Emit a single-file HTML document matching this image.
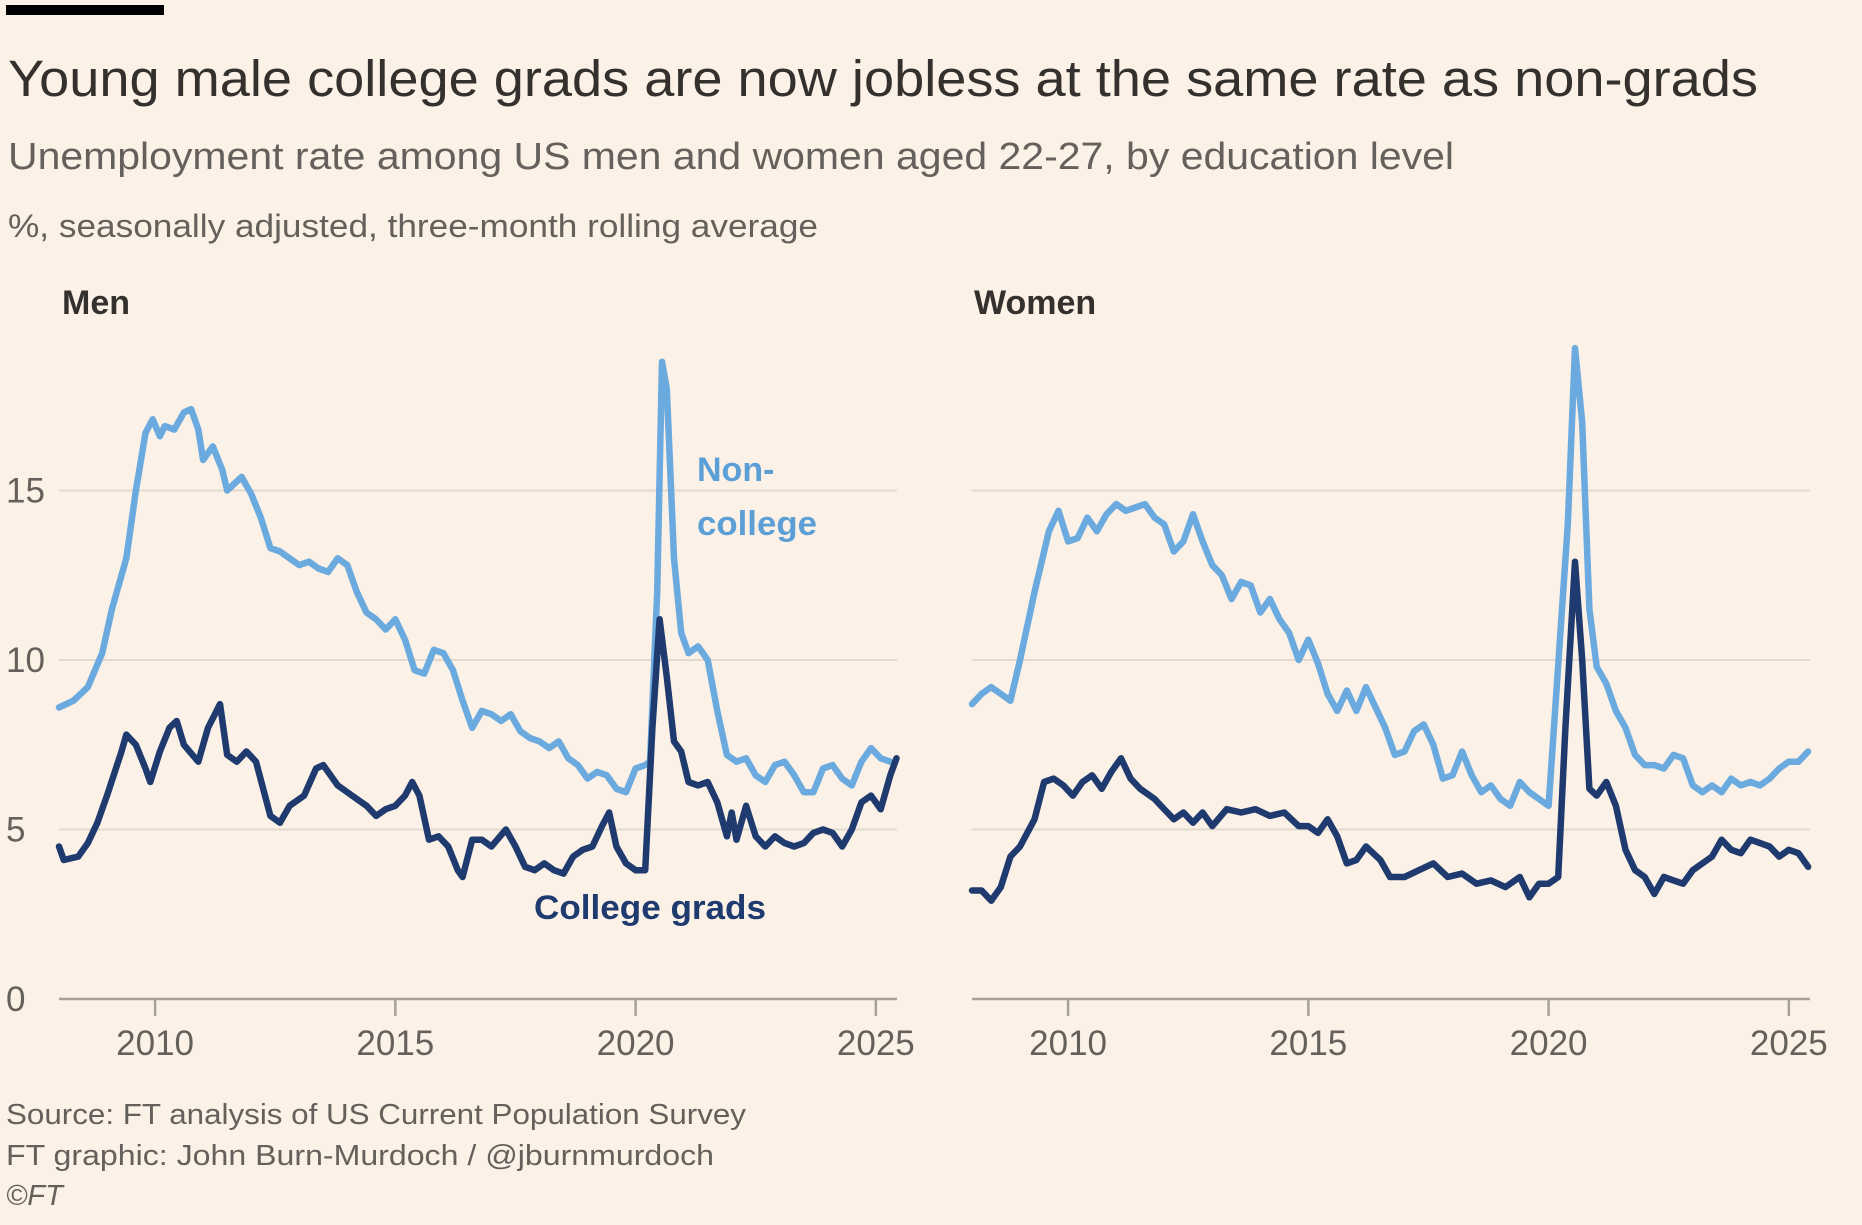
<!DOCTYPE html>
<html><head><meta charset="utf-8">
<style>
html,body{margin:0;padding:0;background:#fbf1e7;}
body{width:1862px;height:1220px;overflow:hidden;font-family:"Liberation Sans",sans-serif;}
</style></head>
<body>
<svg id="s" width="1862" height="1220" viewBox="0 0 1862 1220" xmlns="http://www.w3.org/2000/svg" font-family="Liberation Sans, sans-serif">
<rect width="1862" height="1220" fill="#fbf1e7"/>
<rect x="6" y="5" width="158" height="10" fill="#000"/>
<text x="8" y="96" font-size="51" fill="#33302e" textLength="1750" lengthAdjust="spacingAndGlyphs">Young male college grads are now jobless at the same rate as non-grads</text>
<text x="8" y="169" font-size="38" fill="#66605c" textLength="1446" lengthAdjust="spacingAndGlyphs">Unemployment rate among US men and women aged 22-27, by education level</text>
<text x="8" y="237" font-size="32" fill="#66605c" textLength="810" lengthAdjust="spacingAndGlyphs">%, seasonally adjusted, three-month rolling average</text>
<text x="62" y="314" font-size="34" font-weight="bold" fill="#33302e">Men</text>
<text x="974" y="314" font-size="34" font-weight="bold" fill="#33302e">Women</text>
<g id="axes"></g>
<g id="lines"></g>
<text x="697" y="481" font-size="34" font-weight="bold" fill="#5c9fd6">Non-</text>
<text x="697" y="535" font-size="34" font-weight="bold" fill="#5c9fd6" textLength="120" lengthAdjust="spacingAndGlyphs">college</text>
<text x="534" y="919" font-size="34" font-weight="bold" fill="#1e3a6e" textLength="232" lengthAdjust="spacingAndGlyphs">College grads</text>
<text x="6" y="1124" font-size="29" fill="#66605c" textLength="740" lengthAdjust="spacingAndGlyphs">Source: FT analysis of US Current Population Survey</text>
<text x="6" y="1165" font-size="29" fill="#66605c" textLength="708" lengthAdjust="spacingAndGlyphs">FT graphic: John Burn-Murdoch / @jburnmurdoch</text>
<text x="6" y="1205" font-size="29" fill="#66605c" font-style="italic">©FT</text>
</svg>
<script>
var NS="http://www.w3.org/2000/svg";
function el(p,t,a,txt){var e=document.createElementNS(NS,t);for(var k in a)e.setAttribute(k,a[k]);if(txt!==undefined)e.textContent=txt;document.getElementById(p).appendChild(e);return e;}
function Y(v){return 999-v*33.9;}
var offs=[0,913];
offs.forEach(function(o,i){
  [5,10,15].forEach(function(v){el("axes","line",{x1:59+o,x2:897+o,y1:Y(v),y2:Y(v),stroke:"#e3dacf","stroke-width":2});});
  el("axes","line",{x1:59+o,x2:897+o,y1:999,y2:999,stroke:"#a8a19b","stroke-width":2.5});
  [2010,2015,2020,2025].forEach(function(yr){var x=59+o+(yr-2008)*48.05;
    el("axes","line",{x1:x,x2:x,y1:999,y2:1016,stroke:"#a8a19b","stroke-width":2.5});
    el("axes","text",{x:x,y:1055,"font-size":35,fill:"#66605c","text-anchor":"middle"},String(yr));});
  if(i==0){[0,5,10,15].forEach(function(v){el("axes","text",{x:6,y:Y(v)+12,"font-size":35,fill:"#66605c"},String(v));});}
});
var MN=[[2008,8.6],[2008.3,8.8],[2008.6,9.2],[2008.9,10.2],[2009.1,11.5],[2009.4,13],[2009.6,15],[2009.8,16.7],[2009.95,17.1],[2010.1,16.6],[2010.2,16.9],[2010.4,16.8],[2010.6,17.3],[2010.75,17.4],[2010.9,16.8],[2011,15.9],[2011.2,16.3],[2011.4,15.6],[2011.5,15],[2011.8,15.4],[2012,14.9],[2012.2,14.2],[2012.4,13.3],[2012.6,13.2],[2012.8,13],[2013,12.8],[2013.2,12.9],[2013.4,12.7],[2013.6,12.6],[2013.8,13],[2014,12.8],[2014.2,12],[2014.4,11.4],[2014.6,11.2],[2014.8,10.9],[2015,11.2],[2015.2,10.6],[2015.4,9.7],[2015.6,9.6],[2015.8,10.3],[2016,10.2],[2016.2,9.7],[2016.4,8.8],[2016.6,8],[2016.8,8.5],[2017,8.4],[2017.2,8.2],[2017.4,8.4],[2017.6,7.9],[2017.8,7.7],[2018,7.6],[2018.2,7.4],[2018.4,7.6],[2018.6,7.1],[2018.8,6.9],[2019,6.5],[2019.2,6.7],[2019.4,6.6],[2019.6,6.2],[2019.8,6.1],[2020,6.8],[2020.2,6.9],[2020.3,7],[2020.45,12],[2020.55,18.8],[2020.65,18],[2020.8,13],[2020.95,10.8],[2021.1,10.2],[2021.3,10.4],[2021.5,10],[2021.7,8.5],[2021.9,7.2],[2022.1,7],[2022.3,7.1],[2022.5,6.6],[2022.7,6.4],[2022.9,6.9],[2023.1,7],[2023.3,6.6],[2023.5,6.1],[2023.7,6.1],[2023.9,6.8],[2024.1,6.9],[2024.3,6.5],[2024.5,6.3],[2024.7,7],[2024.9,7.4],[2025.1,7.1],[2025.3,7]];
var MC=[[2008,4.5],[2008.1,4.1],[2008.4,4.2],[2008.6,4.6],[2008.8,5.2],[2009,6],[2009.3,7.3],[2009.4,7.8],[2009.6,7.5],[2009.8,6.8],[2009.9,6.4],[2010.1,7.3],[2010.3,8],[2010.45,8.2],[2010.6,7.5],[2010.9,7],[2011.1,8],[2011.35,8.7],[2011.5,7.2],[2011.7,7],[2011.9,7.3],[2012.1,7],[2012.4,5.4],[2012.6,5.2],[2012.8,5.7],[2013.1,6],[2013.35,6.8],[2013.5,6.9],[2013.8,6.3],[2014.1,6],[2014.4,5.7],[2014.6,5.4],[2014.8,5.6],[2015,5.7],[2015.2,6],[2015.35,6.4],[2015.5,6],[2015.7,4.7],[2015.9,4.8],[2016.1,4.5],[2016.3,3.8],[2016.4,3.6],[2016.6,4.7],[2016.8,4.7],[2017,4.5],[2017.3,5],[2017.5,4.5],[2017.7,3.9],[2017.9,3.8],[2018.1,4],[2018.3,3.8],[2018.5,3.7],[2018.7,4.2],[2018.9,4.4],[2019.1,4.5],[2019.3,5.1],[2019.45,5.5],[2019.6,4.5],[2019.8,4],[2020,3.8],[2020.2,3.8],[2020.35,8],[2020.5,11.2],[2020.65,9.5],[2020.8,7.6],[2020.95,7.3],[2021.1,6.4],[2021.3,6.3],[2021.5,6.4],[2021.7,5.8],[2021.9,4.8],[2022,5.5],[2022.1,4.7],[2022.3,5.7],[2022.5,4.8],[2022.7,4.5],[2022.9,4.8],[2023.1,4.6],[2023.3,4.5],[2023.5,4.6],[2023.7,4.9],[2023.9,5],[2024.1,4.9],[2024.3,4.5],[2024.5,5],[2024.7,5.8],[2024.9,6],[2025.1,5.6],[2025.3,6.6],[2025.43,7.1]];
var WN=[[2008,8.7],[2008.2,9],[2008.4,9.2],[2008.6,9],[2008.8,8.8],[2009,10],[2009.3,12],[2009.6,13.8],[2009.8,14.4],[2010,13.5],[2010.2,13.6],[2010.4,14.2],[2010.6,13.8],[2010.8,14.3],[2011,14.6],[2011.2,14.4],[2011.4,14.5],[2011.6,14.6],[2011.8,14.2],[2012,14],[2012.2,13.2],[2012.4,13.5],[2012.6,14.3],[2012.8,13.5],[2013,12.8],[2013.2,12.5],[2013.4,11.8],[2013.6,12.3],[2013.8,12.2],[2014,11.4],[2014.2,11.8],[2014.4,11.2],[2014.6,10.8],[2014.8,10],[2015,10.6],[2015.2,9.9],[2015.4,9],[2015.6,8.5],[2015.8,9.1],[2016,8.5],[2016.2,9.2],[2016.4,8.6],[2016.6,8],[2016.8,7.2],[2017,7.3],[2017.2,7.9],[2017.4,8.1],[2017.6,7.5],[2017.8,6.5],[2018,6.6],[2018.2,7.3],[2018.4,6.6],[2018.6,6.1],[2018.8,6.3],[2019,5.9],[2019.2,5.7],[2019.4,6.4],[2019.6,6.1],[2019.8,5.9],[2020,5.7],[2020.4,14],[2020.55,19.2],[2020.7,17],[2020.85,11.5],[2021,9.8],[2021.2,9.3],[2021.4,8.5],[2021.6,8],[2021.8,7.2],[2022,6.9],[2022.2,6.9],[2022.4,6.8],[2022.6,7.2],[2022.8,7.1],[2023,6.3],[2023.2,6.1],[2023.4,6.3],[2023.6,6.1],[2023.8,6.5],[2024,6.3],[2024.2,6.4],[2024.4,6.3],[2024.6,6.5],[2024.8,6.8],[2025,7],[2025.2,7],[2025.4,7.3]];
var WC=[[2008,3.2],[2008.2,3.2],[2008.4,2.9],[2008.6,3.3],[2008.8,4.2],[2009,4.5],[2009.3,5.3],[2009.5,6.4],[2009.7,6.5],[2009.9,6.3],[2010.1,6],[2010.3,6.4],[2010.5,6.6],[2010.7,6.2],[2010.9,6.7],[2011.1,7.1],[2011.3,6.5],[2011.5,6.2],[2011.8,5.9],[2012,5.6],[2012.2,5.3],[2012.4,5.5],[2012.6,5.2],[2012.8,5.5],[2013,5.1],[2013.3,5.6],[2013.6,5.5],[2013.9,5.6],[2014.2,5.4],[2014.5,5.5],[2014.8,5.1],[2015,5.1],[2015.2,4.9],[2015.4,5.3],[2015.6,4.8],[2015.8,4],[2016,4.1],[2016.2,4.5],[2016.5,4.1],[2016.7,3.6],[2017,3.6],[2017.3,3.8],[2017.6,4],[2017.9,3.6],[2018.2,3.7],[2018.5,3.4],[2018.8,3.5],[2019.1,3.3],[2019.4,3.6],[2019.6,3],[2019.8,3.4],[2020,3.4],[2020.2,3.6],[2020.35,8],[2020.55,12.9],[2020.7,10],[2020.85,6.2],[2021,6],[2021.2,6.4],[2021.4,5.7],[2021.6,4.4],[2021.8,3.8],[2022,3.6],[2022.2,3.1],[2022.4,3.6],[2022.6,3.5],[2022.8,3.4],[2023,3.8],[2023.2,4],[2023.4,4.2],[2023.6,4.7],[2023.8,4.4],[2024,4.3],[2024.2,4.7],[2024.4,4.6],[2024.6,4.5],[2024.8,4.2],[2025,4.4],[2025.2,4.3],[2025.4,3.9]];
function path(d,o,c){var s="";d.forEach(function(p,i){var x=59+o+(p[0]-2008)*48.05;s+=(i?"L":"M")+x.toFixed(1)+","+Y(p[1]).toFixed(1);});
 el("lines","path",{d:s,fill:"none",stroke:c,"stroke-width":6.5,"stroke-linejoin":"round","stroke-linecap":"round"});}
path(MN,0,"#6aaade");path(MC,0,"#1e3a6e");path(WN,913,"#6aaade");path(WC,913,"#1e3a6e");
</script>
</body></html>
